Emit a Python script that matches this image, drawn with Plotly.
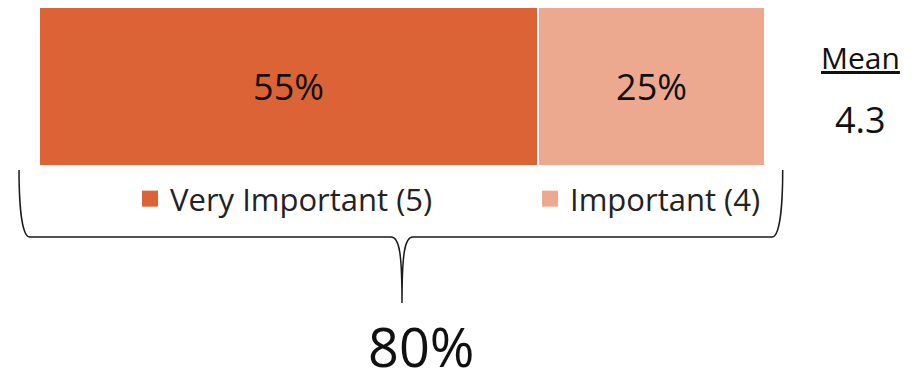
import plotly.graph_objects as go

# ---- data ----
categories = ["Importance"]
series_names = ["Very Important (5)", "Important (4)"]
series_values = [[55], [25]]
series_colors = ["#DC6336", "#ECA98F"]
mean_label = "Mean"
mean_value = 4.3

total = sum(v[0] for v in series_values)

fig = go.Figure()
for name, vals, col in zip(series_names, series_values, series_colors):
    fig.add_trace(go.Bar(
        x=vals, y=[0], orientation="h", name=name, width=1,
        marker=dict(color=col, line=dict(color="white", width=2)),
        text=[f"{v}%" for v in vals], textposition="inside",
        insidetextanchor="middle",
        textfont=dict(family="Open Sans", size=36, color="#111111"),
        hoverinfo="skip", showlegend=False, legendgroup=name,
    ))

# legend keys (larger square swatches than the default bar icon)
legend_widths = [355, 200]
for name, col, lw in zip(series_names, series_colors, legend_widths):
    fig.add_trace(go.Scatter(
        x=[None], y=[None], mode="markers", name=name, legendgroup=name,
        marker=dict(symbol="square", size=16, color=col),
        legendwidth=lw, hoverinfo="skip",
    ))

# curly brace under the bar (data units in x, y)
L, R = -2.2, total + 1.95
C = total / 2
top, mid, tip = -0.525, -0.947, -1.362
r = 1.2
brace = (
    f"M {L},{top} C {L},{mid+0.3} {L+0.1},{mid} {L+r},{mid} "
    f"L {C-1.2},{mid} C {C-0.3},{mid} {C},{mid-0.1} {C},{tip} "
    f"M {R},{top} C {R},{mid+0.3} {R-0.1},{mid} {R-r},{mid} "
    f"L {C+1.2},{mid} C {C+0.3},{mid} {C},{mid-0.1} {C},{tip}"
)
fig.add_shape(type="path", path=brace, xref="x", yref="y",
              line=dict(color="#1a1a1a", width=1.5))

fig.add_annotation(x=C + 2.1, y=-1.635, text=f"{total}%", showarrow=False,
                   font=dict(family="Open Sans", size=54, color="#111111"))
fig.add_annotation(x=90.5, y=0.18, text=f"<u>{mean_label}</u>", showarrow=False,
                   font=dict(family="Open Sans", size=30, color="#111111"))
fig.add_annotation(x=90.5, y=-0.21, text=f"{mean_value}", showarrow=False,
                   font=dict(family="Open Sans", size=36, color="#111111"))

fig.update_layout(
    width=923, height=373,
    margin=dict(l=0, r=0, t=0, b=0, pad=0),
    paper_bgcolor="white", plot_bgcolor="white",
    barmode="stack",
    xaxis=dict(range=[-4.297, 97.41], visible=False, fixedrange=True),
    yaxis=dict(range=[-1.802, 0.544], visible=False, fixedrange=True),
    showlegend=True,
    legend=dict(orientation="h", x=130 / 923, xanchor="left",
                y=1 - 199 / 373, yanchor="middle", traceorder="normal",
                itemsizing="trace", bgcolor="rgba(0,0,0,0)",
                font=dict(family="Open Sans", size=31, color="#222222")),
    font=dict(family="Open Sans"),
)

fig.write_html("out.html")
